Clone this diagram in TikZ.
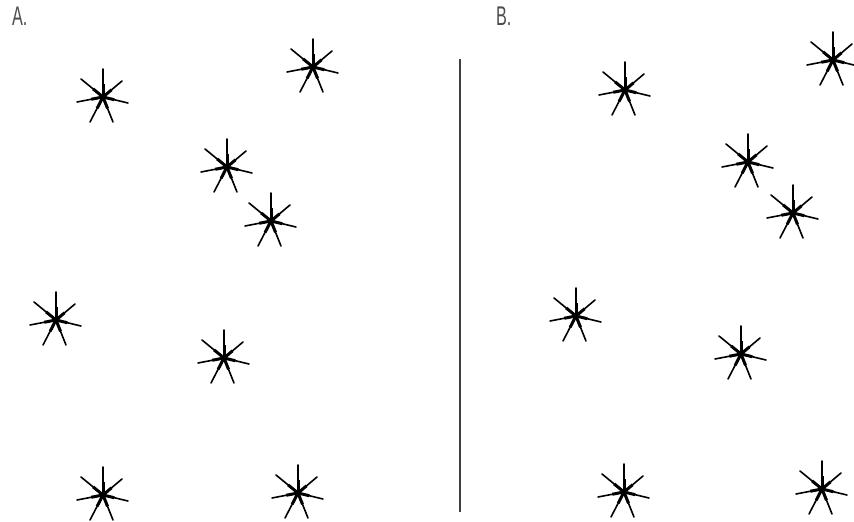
\documentclass[tikz,border=0pt]{standalone}
\usepackage{fontspec}
\setmainfont{Liberation Sans}

\tikzset{
  ray/.style={line width=1.6pt, line cap=round},
  core/.style={line width=3pt},
  sparkle/.pic={
    % rays of one star, end points in px (y down)
    \foreach \dx/\dy in {0/-28,-22/-18,19/-16,-26/5,25/6,-13/25,10/25} {
      \draw[ray] (0,0) -- (\dx,\dy);
      \draw[core] (0,0) -- ({0.45*\dx},{0.45*\dy});
    }
    \fill (0,0) circle (2.5);
  },
  panel/.style={font=\fontsize{27}{30}\selectfont, text=black!70, inner sep=0pt, anchor=north west, xscale=0.6}
}

\begin{document}
\begin{tikzpicture}[x=1pt, y=-1pt]
  \useasboundingbox (0,0) rectangle (854,522);

  % Titres
  \node[panel] (labA) at (12,7) {A.};
  \node[panel] (labB) at (496,7) {B.};

  % Separation
  \draw[black!75, line width=1.3pt] (460,59) -- (460,512);

  % Etoiles : partie A
  \foreach \x/\y in {103/97,313/67,227/167,271/221,56/320,224/358,103/495,298/493} {
    \pic at (\x,\y) {sparkle};
  }

  % Etoiles : partie B
  \foreach \x/\y in {625/90,833/60,748/162,793/213,576/316,741/354,624/492,822/489} {
    \pic at (\x,\y) {sparkle};
  }
\end{tikzpicture}
\end{document}
